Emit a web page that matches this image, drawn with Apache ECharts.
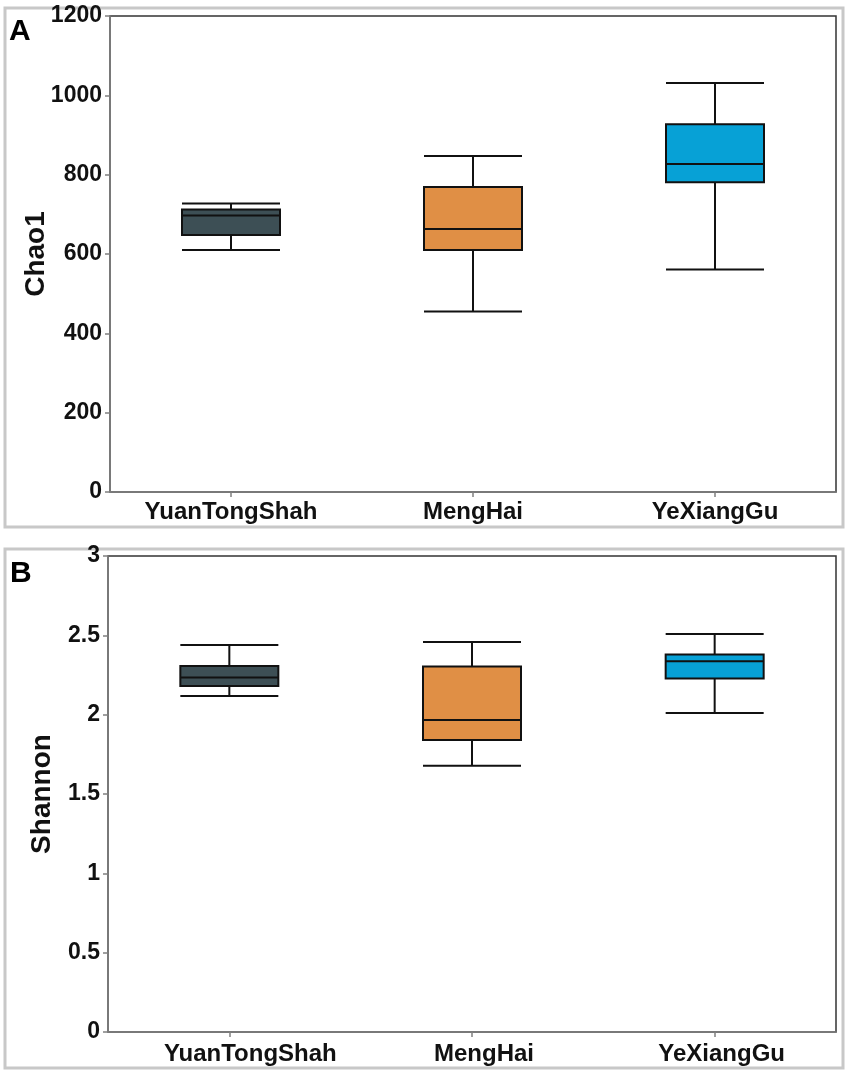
<!DOCTYPE html>
<html>
<head>
<meta charset="utf-8">
<script src="https://cdn.jsdelivr.net/npm/echarts@6/dist/echarts.min.js"></script>
<style>
html,body{margin:0;padding:0;background:#fff;}
#main{width:851px;height:1075px;}
</style>
</head>
<body>
<div id="main"></div>
<script>
// ---- data ----
const categories = ['YuanTongShah', 'MengHai', 'YeXiangGu'];
const colors = ['#3d4f55', '#e08f45', '#07a1d6'];
// [min, Q1, median, Q3, max]
const chao1Values = [
  [610, 648, 697, 712, 727],
  [455, 610, 663, 769, 847],
  [561, 781, 827, 927, 1031]
];
const shannonValues = [
  [2.118, 2.180, 2.235, 2.307, 2.439],
  [1.678, 1.840, 1.967, 2.303, 2.458],
  [2.011, 2.228, 2.336, 2.379, 2.509]
];
const chao1Ticks = {min: 0, max: 1200, interval: 200};
const shannonTicks = {min: 0, max: 3, interval: 0.5};

// ---- chart ----
const FONT = '"Liberation Sans", Arial, sans-serif';
const chart = echarts.init(document.getElementById('main'), null, {renderer: 'canvas'});

function yAxis(idx, name, ticks, gap) {
  return {
    gridIndex: idx, type: 'value', name: name, nameLocation: 'middle', nameGap: gap,
    nameMoveOverlap: false,
    nameTextStyle: {fontFamily: FONT, fontWeight: 'bold', fontSize: 28, color: '#111'},
    min: ticks.min, max: ticks.max, interval: ticks.interval,
    axisLine: {show: true, lineStyle: {color: '#808080', width: 1.5}},
    axisTick: {show: true, length: 5, lineStyle: {color: '#808080', width: 1.5}},
    axisLabel: {fontFamily: FONT, fontWeight: 'bold', fontSize: 23, color: '#111', margin: 8,
                formatter: v => String(v)},
    splitLine: {show: false}
  };
}
const bOffsets = [42, 24, 14];
function xAxis(idx, margin, offsets) {
  return {
    gridIndex: idx, type: 'category',
    data: categories.map((c, i) => offsets ? {value: c, textStyle: {padding: [0, 0, 0, offsets[i]]}} : c),
    axisLine: {show: true, lineStyle: {color: '#808080', width: 1.5}},
    axisTick: {show: true, alignWithLabel: true, length: 5, lineStyle: {color: '#808080', width: 1.5}},
    axisLabel: {fontFamily: FONT, fontWeight: 'bold', fontSize: 24, color: '#111', margin: margin},
    splitLine: {show: false}
  };
}
function boxData(vals) {
  return vals.map((v, i) => ({value: v, itemStyle: {color: colors[i]}}));
}

const option = {
  animation: false,
  backgroundColor: '#fff',
  grid: [
    {left: 110, right: 15, top: 16, height: 476, show: true, borderColor: '#333', borderWidth: 1.5, backgroundColor: 'transparent'},
    {left: 108, right: 15, top: 556, height: 476, show: true, borderColor: '#333', borderWidth: 1.5, backgroundColor: 'transparent'}
  ],
  xAxis: [xAxis(0, 8, null), xAxis(1, 10, bOffsets)],
  yAxis: [yAxis(0, 'Chao1', chao1Ticks, 60), yAxis(1, 'Shannon', shannonTicks, 52)],
  series: [
    {type: 'boxplot', xAxisIndex: 0, yAxisIndex: 0, boxWidth: [98, 98],
     itemStyle: {borderColor: '#111', borderWidth: 2}, data: boxData(chao1Values)},
    {type: 'boxplot', xAxisIndex: 1, yAxisIndex: 1, boxWidth: [98, 98],
     itemStyle: {borderColor: '#111', borderWidth: 2}, data: boxData(shannonValues)}
  ],
  graphic: [
    {type: 'rect', shape: {x: 5, y: 8, width: 838, height: 519}, style: {fill: 'none', stroke: '#c8c8c8', lineWidth: 3}, silent: true},
    {type: 'rect', shape: {x: 5, y: 549, width: 838, height: 519}, style: {fill: 'none', stroke: '#c8c8c8', lineWidth: 3}, silent: true},
    {type: 'text', left: 9, top: 17, style: {text: 'A', font: 'bold 30px ' + FONT, fill: '#000'}},
    {type: 'text', left: 10, top: 559, style: {text: 'B', font: 'bold 30px ' + FONT, fill: '#000'}}
  ]
};
chart.setOption(option);
</script>
</body>
</html>
